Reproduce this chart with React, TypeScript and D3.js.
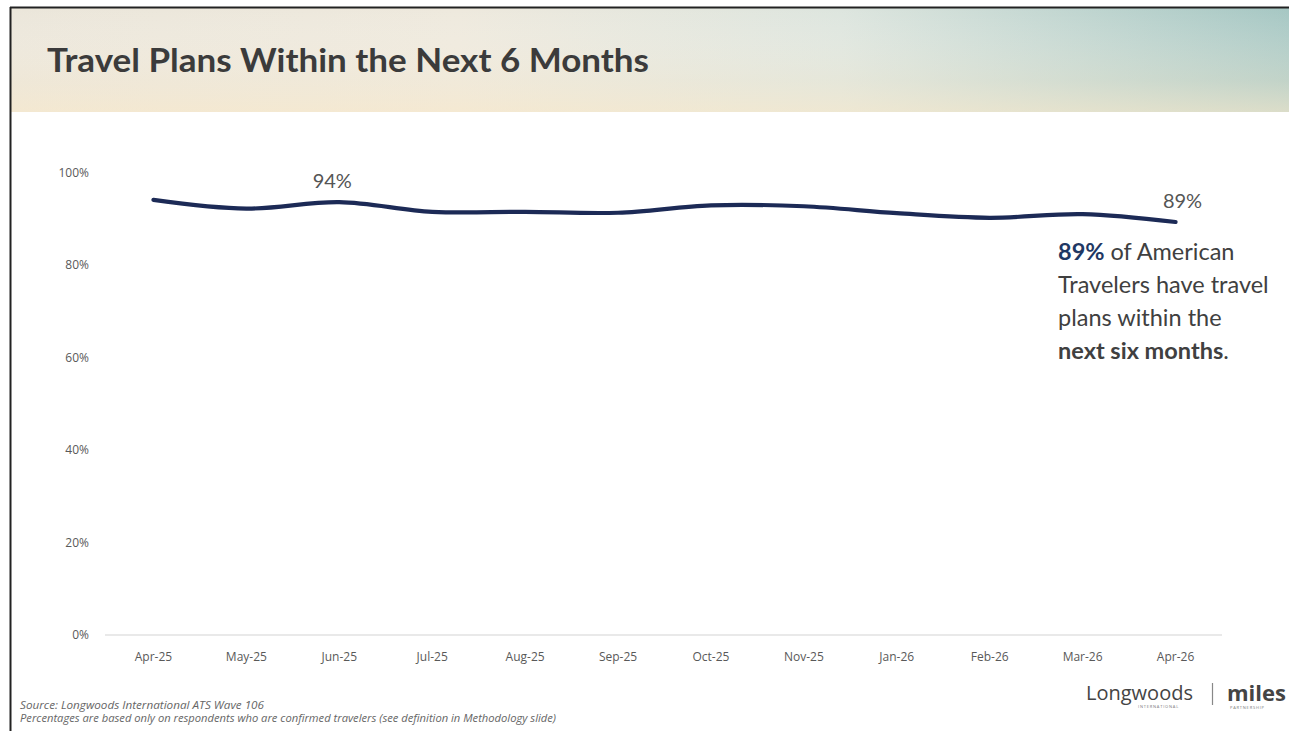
import React from "react";
import * as d3 from "d3";

const months = ["Apr-25","May-25","Jun-25","Jul-25","Aug-25","Sep-25","Oct-25","Nov-25","Jan-26","Feb-26","Mar-26","Apr-26"];
const travelPlans = [94.2, 92.3, 93.7, 91.6, 91.6, 91.4, 93.0, 92.8, 91.3, 90.3, 91.1, 89.4];
const yTicks = [0, 20, 40, 60, 80, 100];
const pointLabels = [{ i: 2, text: "94%" }, { i: 11, text: "89%" }];

const W = 1289, H = 731;
const plot = { left: 107, right: 1222, top: 173, bottom: 635 };
const labelDx: Record<number, number> = { 2: -7, 11: 7 };

export default function App() {
  const x = d3.scaleBand<string>().domain(months).range([plot.left, plot.right]);
  const y = d3.scaleLinear().domain([0, 100]).range([plot.bottom, plot.top]);
  const cx = (i: number) => (x(months[i]) as number) + x.bandwidth() / 2;
  const line = d3.line<number>()
    .x((_, i) => cx(i))
    .y((d) => y(d))
    .curve(d3.curveCatmullRom.alpha(0.5));
  const font = "'Open Sans', Lato, sans-serif";
  const cal = "Lato, 'Open Sans', sans-serif";
  return (
    <svg width={W} height={H} style={{ position: "absolute", left: 0, top: 0, background: "#fff" }} fontFamily={font}>
      <defs>
        <linearGradient id="hdr" x1="0" y1="0" x2="1" y2="0">
          <stop offset="0" stopColor="#ebe6da" />
          <stop offset="0.35" stopColor="#eee9dd" />
          <stop offset="0.65" stopColor="#dde5de" />
          <stop offset="1" stopColor="#a6c7c3" />
        </linearGradient>
        <linearGradient id="hdrV" x1="0" y1="0" x2="0" y2="1">
          <stop offset="0" stopColor="#ffffff" stopOpacity="0" />
          <stop offset="0.7" stopColor="#f6ead2" stopOpacity="0.35" />
          <stop offset="1" stopColor="#f8e9cc" stopOpacity="0.65" />
        </linearGradient>
      </defs>
      <rect x={11} y={8} width={W - 11} height={104} fill="url(#hdr)" />
      <rect x={11} y={8} width={W - 11} height={104} fill="url(#hdrV)" />
      <line x1={10.5} y1={7} x2={10.5} y2={H} stroke="#222" strokeWidth={2} />
      <line x1={10} y1={7.5} x2={W} y2={7.5} stroke="#222" strokeWidth={2} />
      <text x={47} y={72} fontFamily={cal} fontWeight={700} fontSize={32} fill="#3b3b3b" textLength={602} lengthAdjust="spacingAndGlyphs">Travel Plans Within the Next 6 Months</text>

      {/* axis baseline */}
      <line x1={plot.left - 2} x2={plot.right} y1={y(0)} y2={y(0)} stroke="#e2e2e2" strokeWidth={1.5} />
      {yTicks.map((t) => (
        <text key={t} x={89} y={y(t) + 4} textAnchor="end" fontSize={12} fill="#595959">{t}%</text>
      ))}
      {months.map((m, i) => (
        <text key={m} x={cx(i)} y={661} textAnchor="middle" fontSize={12} fill="#595959">{m}</text>
      ))}

      <path d={line(travelPlans) || ""} fill="none" stroke="#1c2a56" strokeWidth={4.2} strokeLinecap="round" />
      {pointLabels.map((p) => (
        <text key={p.i} x={cx(p.i) + (labelDx[p.i] || 0)} y={y(travelPlans[p.i]) - 14} textAnchor="middle" fontFamily={cal} fontSize={20} fill="#555">{p.text}</text>
      ))}

      <g fontFamily={cal} fontSize={23.5} fill="#404040">
        <text x={1058} y={260}><tspan fontWeight={700} fill="#1f3864">89%</tspan> of American</text>
        <text x={1058} y={293}>Travelers have travel</text>
        <text x={1058} y={326}>plans within the</text>
        <text x={1058} y={359}><tspan fontWeight={700}>next six months</tspan>.</text>
      </g>

      <g fontStyle="italic" fontSize={10} fill="#666">
        <text x={20} y={709} textLength={244} lengthAdjust="spacingAndGlyphs">Source: Longwoods International ATS Wave 106</text>
        <text x={20} y={722} textLength={536} lengthAdjust="spacingAndGlyphs">Percentages are based only on respondents who are confirmed travelers (see definition in Methodology slide)</text>
      </g>

      <text x={1086} y={700} fontSize={20} fill="#444" fontFamily={font}>Longwoods</text>
      <text x={1138} y={708} fontSize={4} fill="#777" letterSpacing={0.8}>INTERNATIONAL</text>
      <line x1={1212.5} x2={1212.5} y1={683} y2={705} stroke="#888" strokeWidth={1.2} />
      <text x={1227} y={701} fontSize={22} fontWeight={700} fill="#444">miles</text>
      <text x={1230} y={709} fontSize={4} fill="#777" letterSpacing={0.8}>PARTNERSHIP</text>
    </svg>
  );
}
